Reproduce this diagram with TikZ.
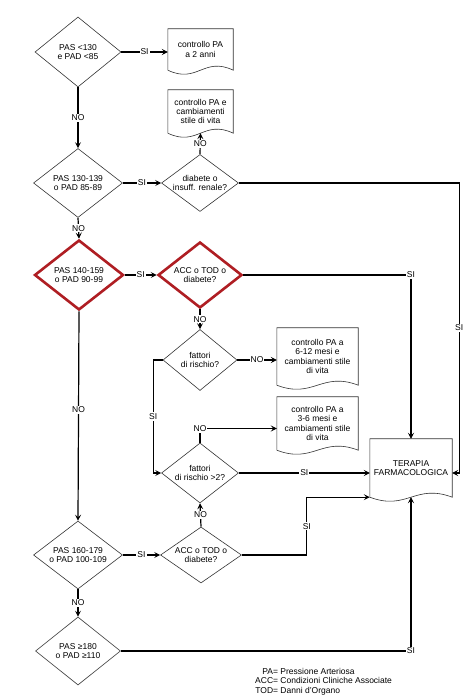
\documentclass[tikz,border=0pt]{standalone}
\usepackage{fontspec}
\setmainfont{Liberation Sans}
\usetikzlibrary{shapes.geometric, arrows.meta, calc}
\definecolor{checkred}{RGB}{175, 30, 35}
\newcommand{\docoutline}[1]{%
  \draw[line width=0.6pt, black!80] (#1.south west) -- (#1.north west) -- (#1.north east) -- (#1.south east)
    .. controls ($(#1.south east)!0.45!(#1.south west)+(0,14)$) and ($(#1.south west)!0.45!(#1.south east)+(0,-14)$) .. (#1.south west);}

\begin{document}
\begin{tikzpicture}[x=1pt, y=1pt, font=\fontsize{8.5}{9.2}\selectfont,
    decision/.style={diamond, draw=black!80, line width=0.6pt, aspect=1.3, inner sep=0pt, align=center},
    riskcheck/.style={decision, draw=checkred, line width=2.6pt},
    docnode/.style={rectangle, inner sep=1pt, align=center},
    lbl/.style={fill=white, inner sep=1pt},
    arr/.style={line width=1.2pt, -{Stealth[length=6pt, width=6pt, inset=2.5pt]}}]
    \useasboundingbox (0,0) rectangle (466,700);

    % decisions and outcomes
    \node [decision, minimum width=86pt, minimum height=70pt] (d1) at (78,648) {PAS <130\\e PAD <85};
    \node [docnode, minimum width=65pt, minimum height=41pt] (doc1) at (200.5,650.5) {controllo PA\\a 2 anni};
    \node [docnode, minimum width=65pt, minimum height=43pt] (doc2) at (200.5,588.5) {controllo PA e\\cambiamenti\\stile di vita};
    \node [decision, minimum width=89pt, minimum height=69pt] (d2) at (78,517) {PAS 130-139\\o PAD 85-89};
    \node [decision, minimum width=77pt, minimum height=56pt] (d3) at (200,517) {diabete o\\insuff. renale?};
    \node [riskcheck, minimum width=89pt, minimum height=70pt] (d4) at (79,425) {PAS 140-159\\o PAD 90-99};
    \node [riskcheck, minimum width=84pt, minimum height=66pt] (d5) at (200,425) {ACC o TOD o\\diabete?};
    \node [decision, minimum width=74pt, minimum height=61pt] (d6) at (200,340) {fattori\\di rischio?};
    \node [docnode, minimum width=81pt, minimum height=57pt] (doc3) at (317.5,343.5) {controllo PA a\\6-12 mesi e\\cambiamenti stile\\di vita};
    \node [docnode, minimum width=81pt, minimum height=53pt] (doc4) at (317.5,276.5) {controllo PA a\\3-6 mesi e\\cambiamenti stile\\di vita};
    \node [decision, minimum width=77pt, minimum height=60pt] (d7) at (200,227) {fattori\\di rischio >2?};
    \node [docnode, minimum width=82pt, minimum height=58pt] (ter) at (411,232) {TERAPIA\\FARMACOLOGICA};
    \node [decision, minimum width=81pt, minimum height=56pt] (d8) at (201,145) {ACC o TOD o\\diabete?};
    \node [decision, minimum width=89pt, minimum height=68pt] (d9) at (78,145) {PAS 160-179\\o PAD 100-109};
    \node [decision, minimum width=85pt, minimum height=68pt] (d10) at (78,49) {PAS ≥180\\o PAD ≥110};

    \docoutline{doc1}
    \docoutline{doc2}
    \docoutline{doc3}
    \docoutline{doc4}
    \docoutline{ter}

    % legend
    \node [anchor=west, inner sep=0pt] (legend) at (255,18) {%
        \begin{tabular}{@{}r@{ }l@{}}
            PA= & Pressione Arteriosa\\
            ACC= & Condizioni Cliniche Associate\\
            TOD= & Danni d'Organo
        \end{tabular}};

    % connectors
    \draw [arr] (d1.east) -- node [lbl] {SI} (d1.east -| doc1.west);
    \draw [arr] (d1.south) -- node [lbl] {NO} (d2.north);
    \draw [arr] (d2.east) -- node [lbl] {SI} (d3.west);
    \draw [arr] (d3.north) -- node [lbl] {NO} (doc2.south);
    \draw [arr] (d3.east) -| node [lbl, pos=0.75] {SI} ($(d7.east -| ter.east)+(7,0)$) -- (d7.east -| ter.east);
    \draw [arr] (d2.south) -- node [lbl] {NO} (d4.north);
    \draw [arr] (d4.east) -- node [lbl] {SI} (d5.west);
    \draw [arr] (d5.east) -| node [lbl] {SI} (ter.north);
    \draw [arr] (d5.south) -- node [lbl] {NO} (d6.north);
    \draw [arr] (d6.east) -- node [lbl] {NO} (d6.east -| doc3.west);
    \draw [arr] (d6.west) -| node [lbl, pos=0.75] {SI} ($(d7.west)+(-8,0)$) -- (d7.west);
    \draw [arr] (d7.north) |- node [lbl] {NO} ($(doc4.west)+(0,-5)$);
    \draw [arr] (d7.east) -- node [lbl] {SI} (d7.east -| ter.west);
    \draw [arr] (d4.south) -- node [lbl, pos=0.47] {NO} (d9.north);
    \draw [arr] (d9.east) -- node [lbl] {SI} (d8.west);
    \draw [arr] (d8.north) -- node [lbl] {NO} (d7.south);
    \draw [arr] (d8.east) -| node [lbl, pos=0.75] {SI} ($(ter.south west)+(-63,0)$) -- (ter.south west);
    \draw [arr] (d9.south) -- node [lbl] {NO} (d10.north);
    \draw [arr] (d10.east) -| node [lbl] {SI} (ter.south);
\end{tikzpicture}
\end{document}
